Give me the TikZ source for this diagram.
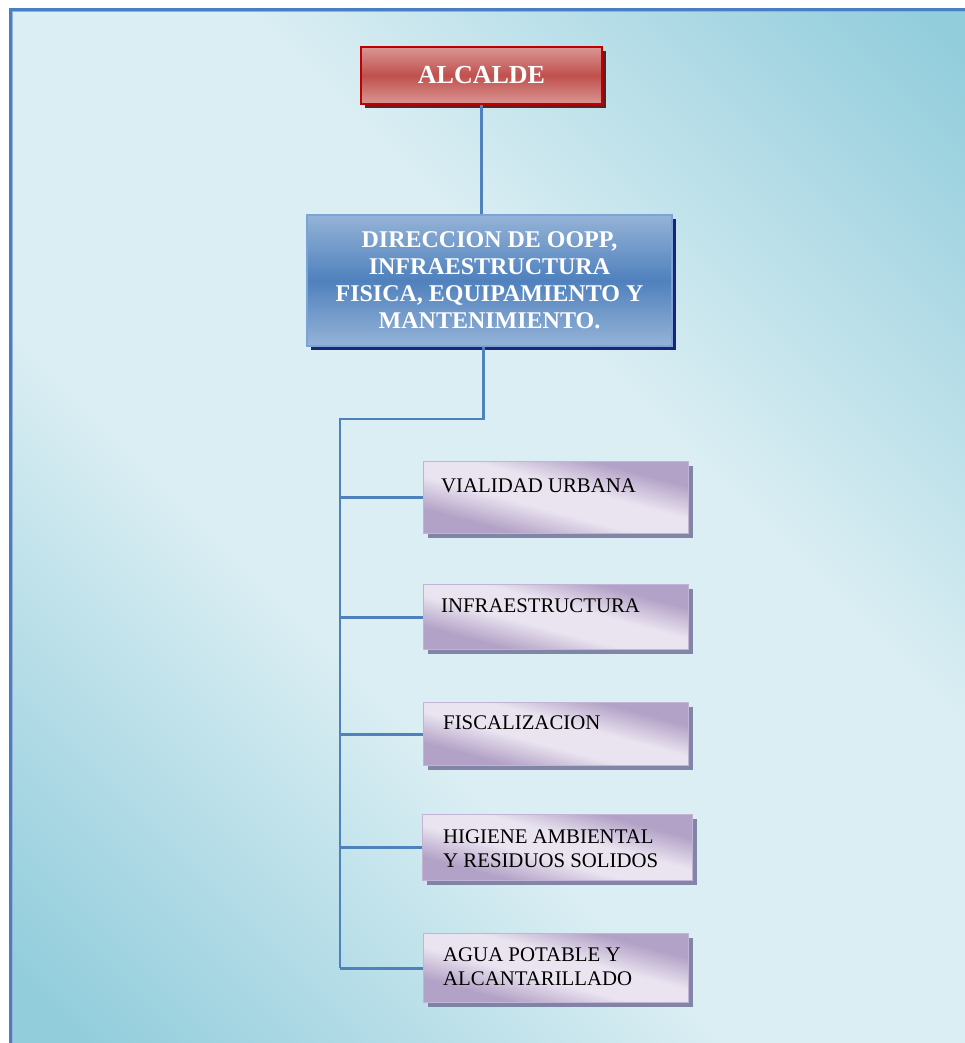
\documentclass[tikz,border=0pt]{standalone}
\usepackage{fontspec}
\setmainfont{Liberation Serif}
\usetikzlibrary{shadows}

\definecolor{bgdark}{HTML}{92CDDC}
\definecolor{bglight}{HTML}{DAEEF3}
\definecolor{framecol}{HTML}{4A7EC4}
\definecolor{linecol}{HTML}{4F81BD}
\definecolor{redlight}{HTML}{DA9694}
\definecolor{redmid}{HTML}{C0504D}
\definecolor{redline}{HTML}{C00000}
\definecolor{bluelight}{HTML}{95B3D7}
\definecolor{bluemid}{HTML}{4F81BD}
\definecolor{blueline}{HTML}{7BA4D6}
\definecolor{purpend}{HTML}{B3A2C7}
\definecolor{purpmid}{HTML}{EAE4F0}
\definecolor{purpline}{HTML}{C3B4D6}

\pgfdeclareverticalshading{bgshade}{100bp}{color(0bp)=(bgdark); color(17bp)=(bgdark); color(29bp)=(bgdark!50!bglight); color(40bp)=(bglight); color(60bp)=(bglight); color(72bp)=(bgdark!50!bglight); color(84bp)=(bgdark); color(100bp)=(bgdark)}
\pgfdeclareverticalshading{unitshade}{100bp}{color(0bp)=(purpend); color(30bp)=(purpend); color(44bp)=(purpmid); color(56bp)=(purpmid); color(70bp)=(purpend); color(100bp)=(purpend)}

\begin{document}
\begin{tikzpicture}[x=1pt, y=-1pt,
	headbox/.style={draw=redline, line width=1.6pt, top color=redlight, bottom color=redlight, middle color=redmid,
		drop shadow={shadow xshift=4pt, shadow yshift=-4pt, fill=black!70!red, opacity=0.85},
		minimum width=241pt, minimum height=57pt, text=white, font=\fontsize{26}{28}\selectfont\bfseries},
	dirbox/.style={draw=blueline, line width=1.2pt, top color=bluelight, bottom color=bluelight, middle color=bluemid,
		drop shadow={shadow xshift=4pt, shadow yshift=-4pt, fill=black!60!blue, opacity=0.85},
		minimum width=365pt, minimum height=131pt, text=white, align=center, font=\fontsize{24}{27}\selectfont\bfseries},
	unitbox/.style={draw=purpline, line width=1.2pt, shading=unitshade, shading angle=-15,
		drop shadow={shadow xshift=4pt, shadow yshift=-4pt, fill=gray!85!blue, opacity=0.8},
		minimum width=265pt, anchor=north west},
	unittext/.style={anchor=north west, inner sep=0pt, align=left, font=\fontsize{20.8}{23.5}\selectfont},
	conn/.style={draw=linecol, line width=2.8pt}
	]
			\useasboundingbox (0,0) rectangle (965,1043);
			\fill[white] (0,0) rectangle (965,1043);
			\shade[shading=bgshade, shading angle=-45] (10,9) rectangle (965,1043);
			\draw[framecol, line width=3pt] (10,1043) -- (10,9.5) -- (965,9.5);
			\draw[bluelight, line width=0.8pt] (12,1043) -- (12,11.5) -- (965,11.5);
			
			% top of the chart
			\node[headbox] (alc) at (481.5,75.5) {ALCALDE};
			\node[dirbox] (dir) at (489.5,280.5) {DIRECCION DE OOPP,\\ INFRAESTRUCTURA\\ FISICA, EQUIPAMIENTO Y\\ MANTENIMIENTO.};
			
			% units
			\node[unitbox, minimum height=72pt] (vial) at (423,461) {};
			\node[unitbox, minimum height=65pt] (infra) at (423,584) {};
			\node[unitbox, minimum height=63pt] (fisc) at (423,702) {};
			\node[unitbox, minimum height=66pt, minimum width=270pt] (hig) at (422,814) {};
			\node[unitbox, minimum height=69pt] (agua) at (423,933) {};
			
			\node[unittext] (vialtx) at ([shift={(18,18)}]vial.north west) {VIALIDAD URBANA};
			\node[unittext] (infratx) at ([shift={(18,15)}]infra.north west) {INFRAESTRUCTURA};
			\node[unittext] (fisctx) at ([shift={(20,14)}]fisc.north west) {FISCALIZACION};
			\node[unittext] (higtx) at ([shift={(21,16)}]hig.north west) {HIGIENE AMBIENTAL\\ Y RESIDUOS SOLIDOS};
			\node[unittext] (aguatx) at ([shift={(20,15)}]agua.north west) {AGUA POTABLE Y\\ ALCANTARILLADO};
			
			% connectors
			\coordinate (trunk) at (340,419);
			\draw[conn] (alc.south) -- (alc.south |- dir.north);
			\draw[conn] ([xshift=-6pt]dir.south) |- (trunk) -- (trunk |- agua.west);
			\foreach \u in {vial, infra, fisc, hig, agua}
			\draw[conn] (trunk |- \u.west) -- (\u.west);
			%\draw[conn] (trunk) -- (340,962);
\end{tikzpicture}
\end{document}
